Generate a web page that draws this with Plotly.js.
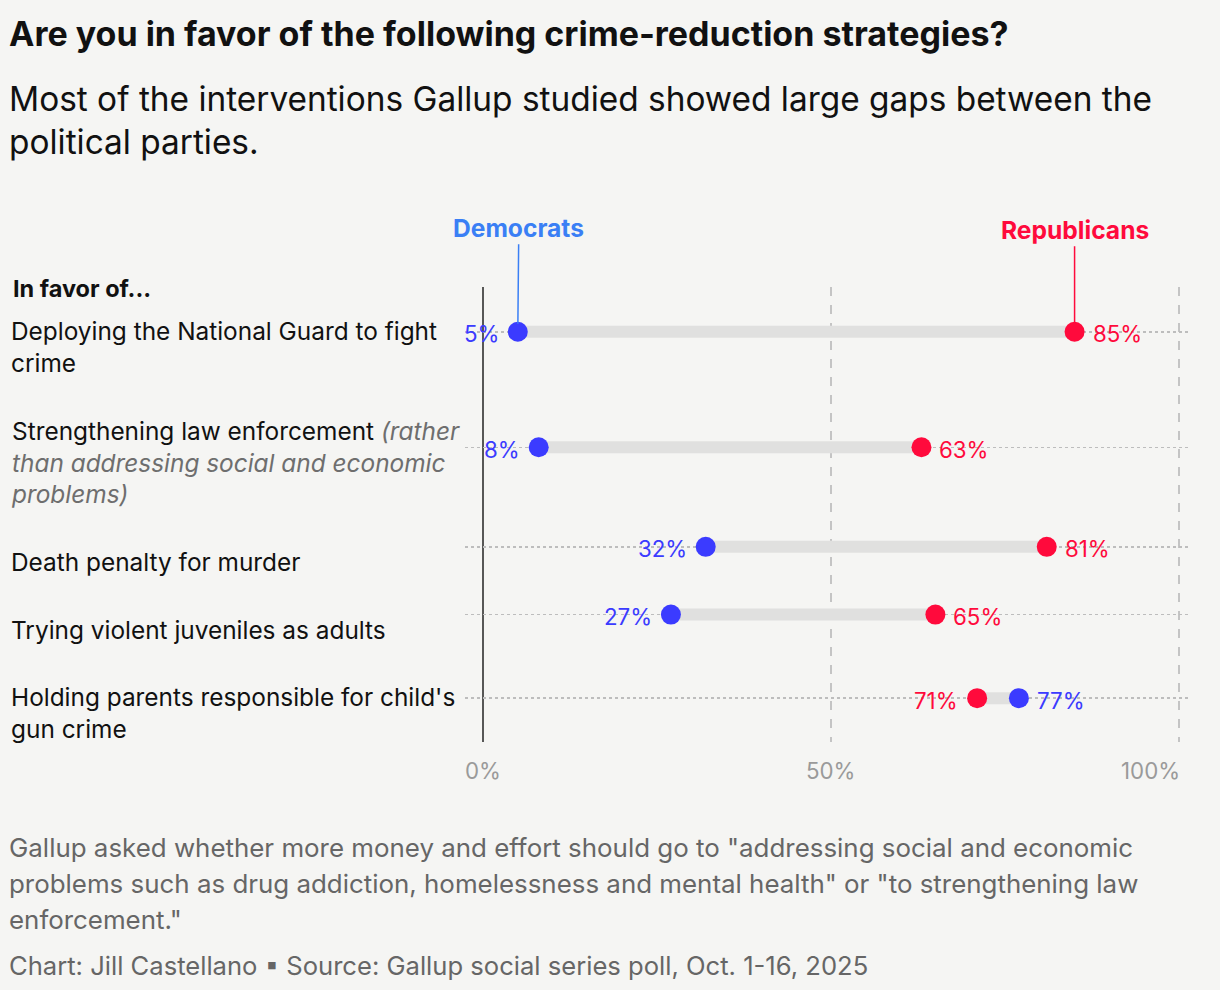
<!DOCTYPE html>
<html><head><meta charset="utf-8">
<script src="https://cdn.plot.ly/plotly-3.0.1.min.js"></script>
<style>body{margin:0;background:#f5f5f3}</style>
</head><body><div id="chart" style="width:1220px;height:990px"></div>
<script>
// ---- data ----
const categories = [
  "Deploying the National Guard to fight<br>crime",
  "Strengthening law enforcement <i><span style='color:#6e6e6e'>(rather</span></i><br><i><span style='color:#6e6e6e'>than addressing social and economic</span></i><br><i><span style='color:#6e6e6e'>problems)</span></i>",
  "Death penalty for murder",
  "Trying violent juveniles as adults",
  "Holding parents responsible for child's<br>gun crime"
];
const democrats = [5, 8, 32, 27, 77];
const republicans = [85, 63, 81, 65, 71];
const tickValues = [0, 50, 100];
const tickLabels = ["0%", "50%", "100%"];

// ---- styling / layout constants ----
const W = 1220, H = 990;
const PL = 465, PR = 1190, PT = 287, PB = 742;
const BLUE = '#3b3bff', RED = '#ff0a3c', BLUE_LBL = '#3a7ff5';
const FONT = 'Inter, Roboto, sans-serif';
const px = v => (v - PL) / (PR - PL);
const py = v => (PB - v) / (PB - PT);

// row positions derived from label line counts
const lines = categories.map(c => c.split('<br>').length);
const rowPos = [0];
for (let i = 1; i < categories.length; i++) {
  rowPos.push(rowPos[i-1] + 36 + 16 * (lines[i-1] + lines[i]));
}
const unit = (PR - PL) / 104.17;
const x0 = -(483 - PL) / unit;

const traces = [];
categories.forEach((c, i) => {
  traces.push({x: [democrats[i], republicans[i]], y: [rowPos[i], rowPos[i]], mode: 'lines',
    line: {color: '#e0e0df', width: 12}, hoverinfo: 'skip', showlegend: false});
});
traces.push({x: democrats, y: rowPos, mode: 'markers', name: 'Democrats',
  marker: {color: BLUE, size: 20}, showlegend: false, cliponaxis: false});
traces.push({x: republicans, y: rowPos, mode: 'markers', name: 'Republicans',
  marker: {color: RED, size: 20}, showlegend: false, cliponaxis: false});

const ann = [];
// row labels
categories.forEach((c, i) => {
  ann.push({text: c, xref: 'paper', x: px(9), xanchor: 'left', yref: 'y', y: rowPos[i], yanchor: 'middle',
    yshift: -15, align: 'left', showarrow: false, font: {family: FONT, size: 24.4, color: '#111'}});
});
// value labels
categories.forEach((c, i) => {
  const demLeft = democrats[i] < republicans[i];
  ann.push({text: democrats[i] + '%', x: democrats[i], y: rowPos[i], xref: 'x', yref: 'y',
    xanchor: demLeft ? 'right' : 'left', xshift: demLeft ? -17 : 16, yshift: -2, showarrow: false,
    font: {family: FONT, size: 22.3, color: BLUE}});
  ann.push({text: republicans[i] + '%', x: republicans[i], y: rowPos[i], xref: 'x', yref: 'y',
    xanchor: demLeft ? 'left' : 'right', xshift: demLeft ? 16 : -17, yshift: -2, showarrow: false,
    font: {family: FONT, size: 22.3, color: RED}});
});
// series labels with leader lines
ann.push({text: '<b>Democrats</b>', x: democrats[0], y: rowPos[0], xref: 'x', yref: 'y',
  showarrow: true, arrowhead: 0, arrowwidth: 1.5, arrowcolor: BLUE_LBL, ax: 1, ay: -104, standoff: 8,
  font: {family: FONT, size: 24.6, color: BLUE_LBL}});
ann.push({text: '<b>Republicans</b>', x: republicans[0], y: rowPos[0], xref: 'x', yref: 'y',
  showarrow: true, arrowhead: 0, arrowwidth: 1.5, arrowcolor: RED, ax: 0, ay: -102, standoff: 8,
  font: {family: FONT, size: 24.6, color: RED}});
// tick labels
tickValues.forEach((t, i) => {
  const last = i === tickValues.length - 1;
  ann.push({text: tickLabels[i], x: t, xref: 'x', yref: 'paper', y: py(770), yanchor: 'middle',
    xanchor: last ? 'right' : 'center', xshift: last ? 3 : 0, showarrow: false,
    font: {family: FONT, size: 22.3, color: '#9a9a9a'}});
});
// header texts
ann.push({text: '<b>In favor of...</b>', xref: 'paper', x: px(11), xanchor: 'left', yref: 'paper', y: py(288),
  yanchor: 'middle', showarrow: false, font: {family: FONT, size: 23.5, color: '#111'}});
ann.push({text: 'Most of the interventions Gallup studied showed large gaps between the<br>political parties.',
  xref: 'paper', x: px(7), xanchor: 'left', yref: 'paper', y: py(77), yanchor: 'top', align: 'left',
  showarrow: false, font: {family: FONT, size: 33.4, color: '#111'}});
// footer
const foot = ['Gallup asked whether more money and effort should go to "addressing social and economic',
  'problems such as drug addiction, homelessness and mental health" or "to strengthening law',
  'enforcement."'];
foot.forEach((t, i) => {
  ann.push({text: t, xref: 'paper', x: px(7), xanchor: 'left', yref: 'paper', y: py(847 + 36 * i),
    yanchor: 'middle', showarrow: false, font: {family: FONT, size: 25.9, color: '#666'}});
});
ann.push({text: 'Chart: Jill Castellano ▪ Source: Gallup social series poll, Oct. 1-16, 2025',
  xref: 'paper', x: px(7), xanchor: 'left', yref: 'paper', y: py(965), yanchor: 'middle',
  showarrow: false, font: {family: FONT, size: 25.6, color: '#666'}});

const layout = {
  width: W, height: H,
  paper_bgcolor: '#f5f5f3', plot_bgcolor: '#f5f5f3',
  margin: {l: PL, r: W - PR, t: PT, b: H - PB},
  title: {text: '<b>Are you in favor of the following crime-reduction strategies?</b>',
    x: 9 / W, xanchor: 'left', xref: 'container', y: 1 - 34 / H, yanchor: 'middle', yref: 'container',
    font: {family: FONT, size: 34, color: '#111'}},
  xaxis: {range: [x0, x0 + 104.17], tickvals: [50, 100], showticklabels: false, ticks: '',
    showgrid: true, gridcolor: '#c4c4c4', griddash: 'dash', gridwidth: 1.5, zeroline: false,
    showline: false, fixedrange: true},
  yaxis: {range: [rowPos[rowPos.length-1] + 44, -45], tickvals: rowPos, showticklabels: false, ticks: '',
    showgrid: true, gridcolor: '#bdbdbd', griddash: 'dot', gridwidth: 1.5, zeroline: false,
    showline: false, fixedrange: true},
  shapes: [{type: 'line', xref: 'x', yref: 'paper', x0: 0, x1: 0, y0: 0, y1: 1,
    line: {color: '#222', width: 1.5}, layer: 'below'}],
  annotations: ann,
  showlegend: false,
  hovermode: false
};

Plotly.newPlot('chart', traces, layout, {displayModeBar: false, staticPlot: true});
</script></body></html>
